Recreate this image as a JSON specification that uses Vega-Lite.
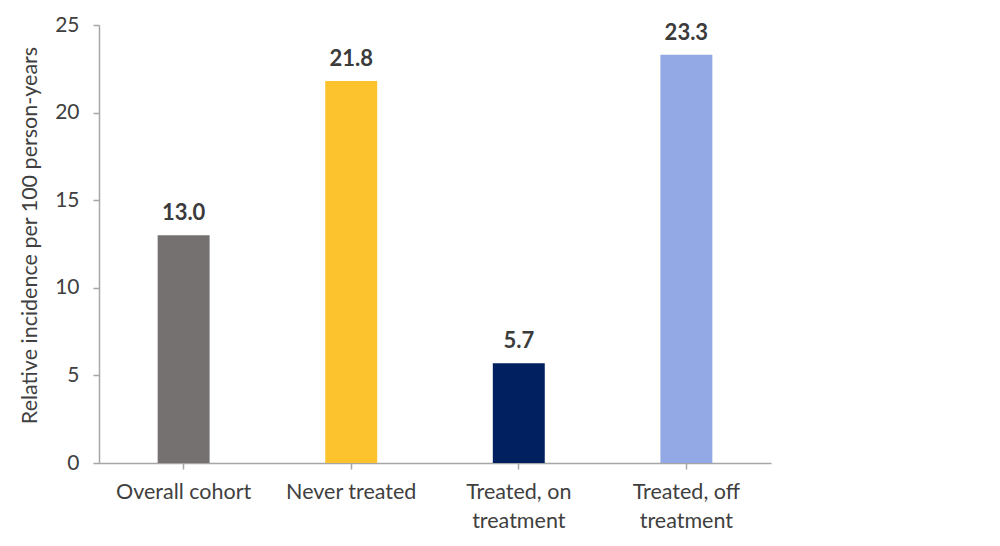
{
  "$schema": "https://vega.github.io/schema/vega-lite/v6.json",
  "width": 672,
  "height": 438,
  "autosize": {"type": "none"},
  "padding": {"left": 99, "top": 25, "right": 229, "bottom": 83},
  "background": "white",
  "config": {"view": {"stroke": null}, "font": "Lato"},
  "data": {
    "values": [
      {"group": "Overall cohort", "rate": 13.0},
      {"group": "Never treated", "rate": 21.8},
      {"group": "Treated, on treatment", "rate": 5.7},
      {"group": "Treated, off treatment", "rate": 23.3}
    ]
  },
  "encoding": {
    "x": {
      "field": "group",
      "type": "nominal",
      "sort": null,
      "scale": {"paddingInner": 0.69, "paddingOuter": 0.35},
      "axis": {
        "title": null,
        "labelAngle": 0,
        "labelFontSize": 21.5,
        "labelColor": "#404040",
        "labelPadding": 12,
        "labelLineHeight": 29,
        "labelBaseline": "top",
        "labelExpr": "split(replace(datum.label, ' treatment', '|treatment'), '|')",
        "domainColor": "#a6a6a6",
        "tickColor": "#a6a6a6",
        "tickSize": 6,
        "domainWidth": 1.5,
        "tickWidth": 1.5
      }
    },
    "y": {
      "field": "rate",
      "type": "quantitative",
      "scale": {"domain": [0, 25]},
      "axis": {
        "title": "Relative incidence per 100 person-years",
        "titleFontSize": 21.5,
        "titleFontWeight": "normal",
        "titleColor": "#404040",
        "titlePadding": 13,
        "titleY": 210,
        "values": [0, 5, 10, 15, 20, 25],
        "grid": false,
        "labelFontSize": 21,
        "labelColor": "#404040",
        "labelPadding": 14,
        "domainColor": "#a6a6a6",
        "tickColor": "#a6a6a6",
        "tickSize": 6,
        "domainWidth": 1.5,
        "tickWidth": 1.5
      }
    }
  },
  "layer": [
    {
      "mark": {"type": "bar"},
      "encoding": {
        "color": {
          "field": "group",
          "type": "nominal",
          "legend": null,
          "scale": {
            "domain": ["Overall cohort", "Never treated", "Treated, on treatment", "Treated, off treatment"],
            "range": ["#767171", "#FDC32F", "#002060", "#93A9E6"]
          }
        }
      }
    },
    {
      "mark": {"type": "text", "fontWeight": "bold", "fontSize": 22, "color": "#3b3b3b", "baseline": "middle", "dy": -22},
      "encoding": {
        "text": {"field": "rate", "type": "quantitative", "format": ".1f"}
      }
    }
  ]
}
